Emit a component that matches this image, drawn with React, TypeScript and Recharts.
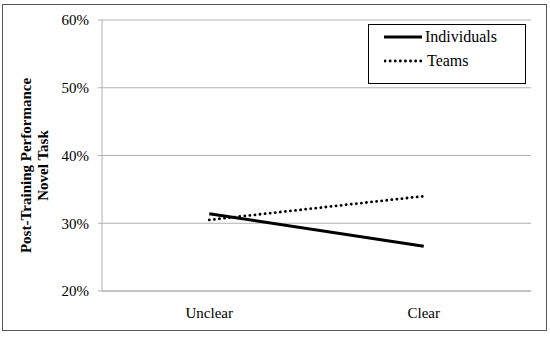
import { LineChart, Line, XAxis, YAxis, CartesianGrid } from 'recharts'

const categories = ['Unclear', 'Clear']
const individuals = [31.4, 26.6]
const teams = [30.5, 34.0]
const yTicks = [20, 30, 40, 50, 60]

const data = categories.map((c, i) => ({ name: c, Individuals: individuals[i], Teams: teams[i] }))

const font = '"Liberation Serif", "DejaVu Serif", serif'

function LegendBox() {
  return (
    <div style={{ position: 'absolute', left: 368, top: 24, border: '1px solid #000', width: 158, height: 60, background: '#fff', fontFamily: font, fontSize: 16, color: '#000', boxSizing: 'border-box' }}>
      <div style={{ display: 'flex', alignItems: 'center', marginTop: 3, marginLeft: 15 }}>
        <svg width={38} height={8}><line x1={0} y1={4} x2={38} y2={4} stroke="#000" strokeWidth={3} /></svg>
        <span style={{ marginLeft: 3 }}>Individuals</span>
      </div>
      <div style={{ display: 'flex', alignItems: 'center', marginTop: 6, marginLeft: 15 }}>
        <svg width={38} height={8}><line x1={1} y1={4} x2={38} y2={4} stroke="#000" strokeWidth={2.8} strokeDasharray="0.1 5" strokeLinecap="round" /></svg>
        <span style={{ marginLeft: 5 }}>Teams</span>
      </div>
    </div>
  )
}

function YTitle(props: any) {
  const vb = props.viewBox
  const cy = vb.y + vb.height / 2 + 10
  return (
    <text transform={`rotate(-90, 34, ${cy})`} x={34} y={cy} textAnchor="middle" fontFamily={font} fontSize={15} fontWeight="bold" fill="#000">
      <tspan x={34} dy={-3}>Post-Training Performance</tspan>
      <tspan x={34} dy={17}>Novel Task</tspan>
    </text>
  )
}

export default function App() {
  return (
    <div style={{ position: 'absolute', left: 0, top: 0, width: 550, height: 337, background: '#fff', fontFamily: font }}>
      <div style={{ position: 'absolute', left: 2, top: 4, width: 545, height: 327, border: '1px solid #555', boxSizing: 'border-box' }} />
      <LineChart width={550} height={337} data={data} style={{ fontFamily: font }}
        margin={{ top: 20, right: 19, bottom: 16, left: 0 }}>
        <CartesianGrid vertical={false} stroke="#b0b0b0" />
        <XAxis dataKey="name" scale="band" stroke="#b0b0b0" tickLine={false} tickMargin={10}
          tick={{ fill: '#000', fontSize: 15 }} />
        <YAxis width={102} domain={[20, 60]} ticks={yTicks} tickFormatter={(v: number) => `${v}%`}
          stroke="#b0b0b0" tickSize={4} tickMargin={9}
          tick={{ fill: '#000', fontSize: 15 }}
          label={<YTitle />} />
        <Line dataKey="Individuals" stroke="#000" strokeWidth={3} dot={false} isAnimationActive={false} />
        <Line dataKey="Teams" stroke="#000" strokeWidth={2.8} strokeDasharray="0.1 5" strokeLinecap="round" dot={false} isAnimationActive={false} />
      </LineChart>
      <LegendBox />
    </div>
  )
}
